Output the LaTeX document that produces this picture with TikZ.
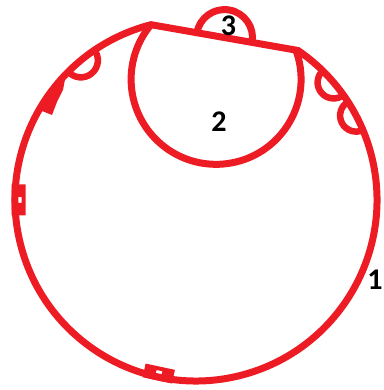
\documentclass[tikz,border=0pt]{standalone}
\usepackage{fontspec}
\newfontfamily\labfont{Carlito}
\usetikzlibrary{calc}
\definecolor{ringred}{RGB}{237,28,36}
\tikzset{
  ring/.style={draw=ringred, line width=7pt},
  loopline/.style={draw=ringred, line width=6.5pt},
  lab/.style={font=\labfont\bfseries\fontsize{30}{30}\selectfont, text=black, inner sep=0pt},
}
\begin{document}
\begin{tikzpicture}[x=1pt,y=1pt]
\useasboundingbox (0,0) rectangle (383,390);
\coordinate (O) at (196,190);
\coordinate (A) at ($(O)+(104.4:181)$);
\coordinate (B) at ($(O)+(55.7:181)$);
\coordinate (M) at ($(A)!0.5!(B)$);
% big ring cut by the chord
\draw[ring] (A) arc[start angle=104.4, end angle=415.7, radius=181] -- cycle;
% inner pocket 2
\draw[ring] (A) arc[start angle=140, end angle=379, radius=85] -- (B);
% bump 3
\draw[ring] ($(M)+(170.08:28)$) arc[start angle=170.08, delta angle=-180, radius=28];
% small loops on the ring
\foreach \ang/\rr in {129.5/17, 40.5/16, 27.8/16}{
  \begin{scope}[shift={(O)}, rotate=\ang]
    \draw[loopline] (181,\rr) arc[start angle=90, delta angle=180, radius=\rr];
  \end{scope}
}
% blocks with holes
\foreach \ang/\len in {180/31, 257.9/30}{
  \begin{scope}[shift={(O)}, rotate=\ang]
    \fill[ringred, even odd rule] (170.5,-\len/2) rectangle (184.5,\len/2)
      (174.5,-3) rectangle (179.5,3);
  \end{scope}
}
% clip wedge
\fill[ringred] (66,316) -- (63,300) -- (57,288) -- (52,275) -- (42,279) -- (40,285) -- (52,299) -- cycle;
% labels
\node[lab] (n3) at (228.5,364) {3};
\node[lab] (n2) at (219,268) {2};
\node[lab] (n1) at (375,110) {1};
\end{tikzpicture}
\end{document}
